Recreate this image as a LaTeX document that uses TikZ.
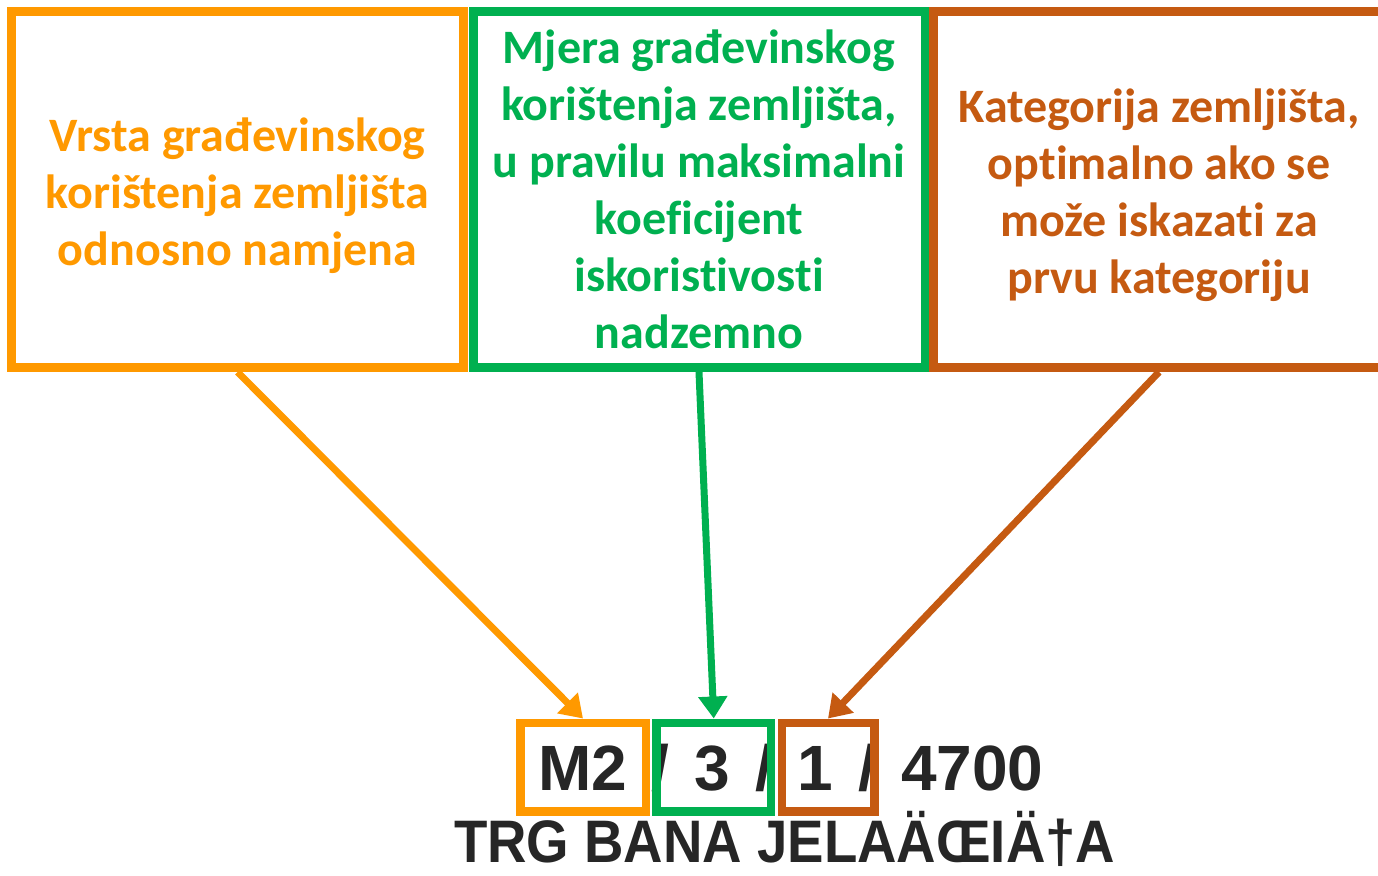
\documentclass[tikz,border=0pt]{standalone}
\usepackage{fontspec}
\setmainfont{Carlito}[Ligatures=NoCommon,RawFeature={-liga;-calt;-dlig;-clig}]
\newfontfamily\codefont{Liberation Sans}
\newfontfamily\codenarrow{Liberation Sans}[FakeStretch=0.91]
\usetikzlibrary{arrows.meta}

\definecolor{vrstaOrange}{HTML}{FF9900}
\definecolor{mjeraGreen}{HTML}{00B050}
\definecolor{katBrown}{HTML}{C55A11}

\tikzset{
    bigbox/.style={rectangle,draw=#1,text=#1,line width=4.5pt,minimum width=226pt,minimum height=178pt,
        align=center,font=\bfseries\fontsize{24}{28.5}\selectfont},
    smallbox/.style={rectangle,draw=#1,line width=4.25pt,minimum height=44.25pt},
    code/.style={anchor=base west,text=black!85},
    pointer/.style={line width=3.5pt,-{Triangle[length=11pt,width=14pt]}}
    }

\begin{document}
\begin{tikzpicture}[x=0.5pt,y=-0.5pt]
                \useasboundingbox (0,0) rectangle (1378,875);
                \clip (0,0) rectangle (1378,875);
                % The explanations
                \node(vrsta)[bigbox=vrstaOrange] at (237.5,189.5)
                    {\rule{0pt}{23pt}Vrsta građevinskog\\korištenja zemljišta\\odnosno namjena};
                \node(mjera)[bigbox=mjeraGreen] at (699,189.5)
                    {Mjera građevinskog\\korištenja zemljišta,\\u pravilu maksimalni\\koeficijent\\iskoristivosti\\nadzemno};
                \node(kat)[bigbox=katBrown] at (1159,189.5)
                    {\rule{0pt}{23pt}Kategorija zemljišta,\\optimalno ako se\\može iskazati za\\prvu kategoriju};
                % The label on the plan
                \node(oznaka)[code,font=\codefont\bfseries\fontsize{32}{32}\selectfont] at (531,790)
                    {\spaceskip=0.39em\relax M2 / 3 / 1 / 4700};
                \node(adresa)[code,font=\codenarrow\bfseries\fontsize{30}{30}\selectfont] at (447,862)
                    {TRG BANA JELAÄŒIÄ†A};
                \node(m2)[smallbox=vrstaOrange,minimum width=62.75pt] at (583,767) {};
                \node(koef)[smallbox=mjeraGreen,minimum width=57.25pt] at (713.75,767) {};
                \node(kat1)[smallbox=katBrown,minimum width=46.25pt] at (828,767) {};
                % The arrows
                \draw[pointer,vrstaOrange] (vrsta.south) -- (m2.north);
                \draw[pointer,mjeraGreen] (mjera.south) -- (koef.north);
                \draw[pointer,katBrown] (kat.south) -- (kat1.north);
            \end{tikzpicture}
\end{document}
